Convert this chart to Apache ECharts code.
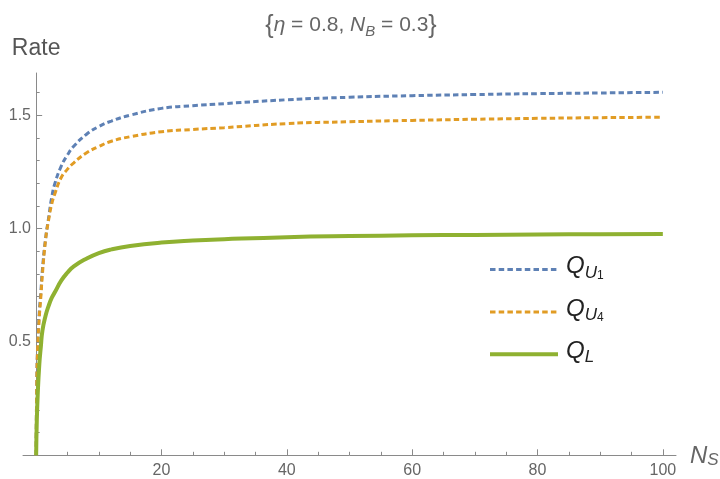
<!DOCTYPE html>
<html><head><meta charset="utf-8">
<script src="https://cdn.jsdelivr.net/npm/echarts@6/dist/echarts.min.js"></script>
<style>html,body{margin:0;padding:0;background:#fff}#c{width:720px;height:479px}</style>
</head><body><div id="c"></div>
<script>
const xs   = [0, 0.1, 0.25, 0.5, 0.75, 1, 1.5, 2, 2.5, 3, 4, 5, 6, 8, 10, 12, 15, 20, 25, 30, 40, 50, 60, 70, 80, 90, 100];
const qU1  = [0, 0.32, 0.49, 0.63, 0.72, 0.82, 0.955, 1.05, 1.14, 1.20, 1.275, 1.325, 1.363, 1.415, 1.45, 1.474, 1.50, 1.530, 1.542, 1.551, 1.568, 1.579, 1.586, 1.591, 1.595, 1.598, 1.601];
const qU4  = [0, 0.32, 0.48, 0.61, 0.70, 0.80, 0.95, 1.04, 1.11, 1.155, 1.225, 1.262, 1.29, 1.333, 1.362, 1.385, 1.405, 1.427, 1.437, 1.445, 1.463, 1.471, 1.477, 1.482, 1.486, 1.489, 1.491];
const qL   = [0, 0.15, 0.27, 0.40, 0.48, 0.55, 0.615, 0.66, 0.695, 0.72, 0.77, 0.806, 0.833, 0.867, 0.892, 0.908, 0.923, 0.938, 0.947, 0.953, 0.962, 0.967, 0.970, 0.972, 0.974, 0.975, 0.976];
const xMajorTicks = [20, 40, 60, 80, 100];
const xMinorTicks = [5, 10, 15, 25, 30, 35, 45, 50, 55, 65, 70, 75, 85, 90, 95];
const yMajorTicks = [0.5, 1.0, 1.5];
const yMinorTicks = [0.1, 0.2, 0.3, 0.4, 0.6, 0.7, 0.8, 0.9, 1.1, 1.2, 1.3, 1.4, 1.6];
const names = ['QU1', 'QU4', 'QL'];
const colors = ['#5E81B5', '#E19C24', '#8FB131'];

const FONT = "'Liberation Sans', Arial, sans-serif";
const AX = '#8a8a8a';
const pair = arr => xs.map((x, i) => [x, arr[i]]);

const chart = echarts.init(document.getElementById('c'), null, {renderer: 'canvas'});
const dash = [5.5, 3.2];
const legendFmt = {
  QU1: '{q|Q}{u|U}{d|1}',
  QU4: '{q|Q}{u|U}{d|4}',
  QL:  '{q|Q}{u|L}'
};

const option = {
  backgroundColor: '#fff',
  animation: false,
  title: {
    text: '{{a|η}{b| = 0.8, }{a|N}{s|B}{b| = 0.3}}',
    left: 346, top: 9, textAlign: 'center',
    textStyle: {
      fontFamily: FONT, fontSize: 25, color: '#666', fontWeight: 'normal',
      rich: {
        a: {fontFamily: FONT, fontSize: 21, fontStyle: 'italic', color: '#666', verticalAlign: 'bottom', lineHeight: 22, padding: [0,0,3,0]},
        b: {fontFamily: FONT, fontSize: 21, color: '#666', verticalAlign: 'bottom', lineHeight: 22, padding: [0,0,3,0]},
        s: {fontFamily: FONT, fontSize: 15, fontStyle: 'italic', color: '#666', verticalAlign: 'bottom', lineHeight: 14, padding: [0,0,0,0]}
      }
    }
  },
  legend: {
    orient: 'vertical', left: 483, top: 249.6,
    itemWidth: 68, itemHeight: 14, itemGap: 15.3,
    data: names.map((n, i) => ({
      name: n,
      itemStyle: {color: 'rgba(0,0,0,0)', borderWidth: 0},
      lineStyle: {color: colors[i], width: i === 2 ? 4 : 3, type: i === 2 ? 'solid' : dash, cap: 'butt'}
    })),
    formatter: n => legendFmt[n],
    textStyle: {
      fontFamily: FONT, color: '#222',
      rich: {
        q: {fontFamily: FONT, fontSize: 24, fontStyle: 'italic', color: '#222', lineHeight: 24, verticalAlign: 'bottom', padding: [0,0,3,3]},
        u: {fontFamily: FONT, fontSize: 17, fontStyle: 'italic', color: '#222', lineHeight: 12, verticalAlign: 'bottom', padding: [0,0,0,0]},
        d: {fontFamily: FONT, fontSize: 12, color: '#222', lineHeight: 6, verticalAlign: 'bottom', padding: [0,0,0,0]}
      }
    }
  },
  grid: {left: 23, right: 44, top: 73, bottom: 23.7, containLabel: false, outerBoundsMode: 'none'},
  xAxis: [{
    type: 'value', min: -2.1, max: 102.1, position: 'bottom',
    name: '{n|N}{s|S}', nameLocation: 'end', nameGap: 14,
    nameTextStyle: {
      padding: [2, 0, 0, 0],
      rich: {
        n: {fontFamily: FONT, fontSize: 24, fontStyle: 'italic', color: '#666', lineHeight: 24, verticalAlign: 'bottom', padding: [0,0,0,0]},
        s: {fontFamily: FONT, fontSize: 17, fontStyle: 'italic', color: '#666', lineHeight: 16, verticalAlign: 'bottom'}
      }
    },
    axisLine: {show: true, onZero: true, onZeroAxisIndex: 0, lineStyle: {color: AX, width: 1}},
    axisTick: {show: true, inside: true, length: 6, customValues: xMajorTicks, lineStyle: {color: AX}},
    axisLabel: {show: true, customValues: xMajorTicks, margin: 7, fontFamily: FONT, fontSize: 16, color: '#666'},
    splitLine: {show: false}
  }, {
    type: 'value', min: -2.1, max: 102.1, position: 'bottom',
    axisLine: {show: true, onZero: true, onZeroAxisIndex: 0, lineStyle: {color: AX, opacity: 0}},
    axisTick: {show: true, inside: true, length: 3.5, customValues: xMinorTicks, lineStyle: {color: AX}},
    axisLabel: {show: false},
    splitLine: {show: false}
  }],
  yAxis: [{
    type: 'value', min: 0, max: 1.686, position: 'left',
    name: 'Rate', nameLocation: 'end', nameGap: 13,
    nameTextStyle: {fontFamily: FONT, fontSize: 23, color: '#555', align: 'center'},
    axisLine: {show: true, onZero: true, onZeroAxisIndex: 0, lineStyle: {color: AX, width: 1}},
    axisTick: {show: true, inside: true, length: 6, customValues: yMajorTicks, lineStyle: {color: AX}},
    axisLabel: {show: true, customValues: yMajorTicks, margin: -8, fontFamily: FONT, fontSize: 16, color: '#666',
      formatter: v => v.toFixed(1)},
    splitLine: {show: false}
  }, {
    type: 'value', min: 0, max: 1.686, position: 'left',
    axisLine: {show: true, onZero: true, onZeroAxisIndex: 0, lineStyle: {color: AX, opacity: 0}},
    axisTick: {show: true, inside: true, length: 3.5, customValues: yMinorTicks, lineStyle: {color: AX}},
    axisLabel: {show: false},
    splitLine: {show: false}
  }],
  series: [
    {name: names[0], type: 'line', data: pair(qU1), showSymbol: false, symbol: 'none', smooth: 0.5,
     lineStyle: {color: colors[0], width: 3, type: dash, cap: 'butt'}, itemStyle: {color: colors[0]}, z: 2},
    {name: names[1], type: 'line', data: pair(qU4), showSymbol: false, symbol: 'none', smooth: 0.5,
     lineStyle: {color: colors[1], width: 3, type: dash, cap: 'butt'}, itemStyle: {color: colors[1]}, z: 3},
    {name: names[2], type: 'line', data: pair(qL), showSymbol: false, symbol: 'none', smooth: 0.5,
     lineStyle: {color: colors[2], width: 4, type: 'solid'}, itemStyle: {color: colors[2]}, z: 4}
  ]
};
chart.setOption(option);
</script></body></html>
